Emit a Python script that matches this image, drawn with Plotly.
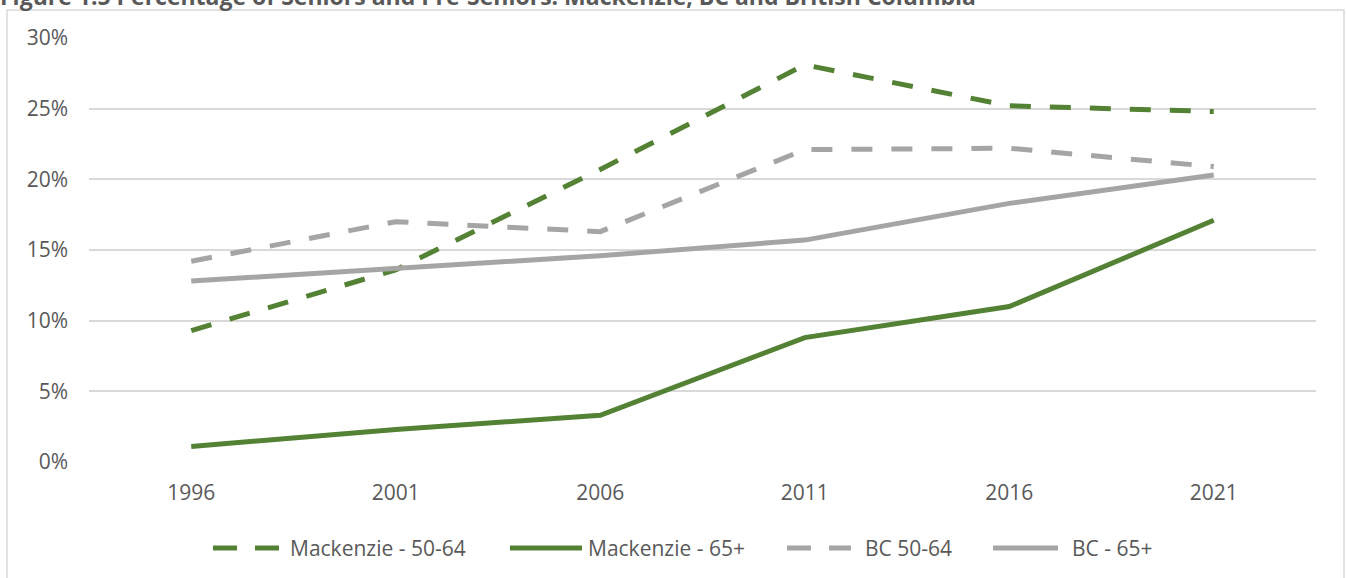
import plotly.graph_objects as go

years = ["1996", "2001", "2006", "2011", "2016", "2021"]
mackenzie_50_64 = [9.3, 13.6, 20.7, 28.1, 25.2, 24.8]
mackenzie_65 = [1.1, 2.3, 3.3, 8.8, 11.0, 17.1]
bc_50_64 = [14.2, 17.0, 16.3, 22.1, 22.2, 20.9]
bc_65 = [12.8, 13.7, 14.6, 15.7, 18.3, 20.3]
series_names = ["Mackenzie - 50-64", "Mackenzie - 65+", "BC 50-64", "BC - 65+"]
y_ticks = [0, 5, 10, 15, 20, 25, 30]
y_tick_text = ["0%", "5%", "10%", "15%", "20%", "25%", "30%"]

GREEN = "#548235"
GRAY = "#A5A5A5"
TXT = "#595959"
FONT = "Open Sans"
DASH = "21px,19px"
FS = 21

series = [mackenzie_50_64, mackenzie_65, bc_50_64, bc_65]
colors = [GREEN, GREEN, GRAY, GRAY]
dashes = [DASH, "solid", DASH, "solid"]

fig = go.Figure()
for name, vals, c, d in zip(series_names, series, colors, dashes):
    fig.add_trace(go.Scatter(x=years, y=vals, mode="lines", name=name,
                             line=dict(color=c, width=5, dash=d), showlegend=False))

L, R, T, B = 89, 1346 - 1316, 38, 578 - 462
W, H = 1346 - L - R, 578 - T - B

def px_x(x):
    return (x - L) / W

def px_y(y):
    return (462 - y) / H

fig.update_layout(
    width=1346, height=578,
    margin=dict(l=L, r=R, t=T, b=B),
    paper_bgcolor="white", plot_bgcolor="white",
    font=dict(family=FONT, color=TXT, size=FS),
    showlegend=False,
    xaxis=dict(type="category", showgrid=False, zeroline=False, showline=False,
               ticks="", tickfont=dict(size=FS, color=TXT), ticklabelstandoff=16,
               range=[-0.5, 5.5]),
    yaxis=dict(range=[0, 30], tickmode="array", tickvals=y_ticks, ticktext=y_tick_text,
               showgrid=True, gridcolor="#D9D9D9", gridwidth=1.5, zeroline=False,
               showline=False, ticks="", tickfont=dict(size=FS, color=TXT),
               ticklabelstandoff=20),
)

# outer chart border
fig.add_shape(type="rect", xref="paper", yref="paper",
              x0=px_x(7), x1=px_x(1344), y0=px_y(600), y1=px_y(10),
              line=dict(color="#D9D9D9", width=1.5), fillcolor="rgba(0,0,0,0)", layer="below")

# title (partially cropped at the top in the reference)
fig.add_annotation(text="<b>Figure 1.5 Percentage of Seniors and Pre-Seniors: Mackenzie, BC and British Columbia</b>",
                   xref="paper", yref="paper", x=px_x(-2), xanchor="left",
                   y=px_y(-4), yanchor="middle", showarrow=False,
                   font=dict(family=FONT, size=23, color=TXT))

# custom legend
legend_line_x = [(213, 279), (510, 582), (787, 851), (993, 1058)]
legend_text_x = [290, 588, 865, 1072]
LEG_Y = 548
for name, c, d, (x0, x1), tx in zip(series_names, colors, dashes, legend_line_x, legend_text_x):
    fig.add_shape(type="line", xref="paper", yref="paper",
                  x0=px_x(x0), x1=px_x(x1), y0=px_y(LEG_Y), y1=px_y(LEG_Y),
                  line=dict(color=c, width=5, dash="24px,18px" if d != "solid" else "solid"))
    fig.add_annotation(text=name, xref="paper", yref="paper", x=px_x(tx - 2), xanchor="left",
                       y=px_y(LEG_Y), yanchor="middle", showarrow=False,
                       font=dict(family=FONT, size=FS, color=TXT))

fig.write_html("out.html", config={"displayModeBar": False},
               post_script="document.body.style.margin='0';")
